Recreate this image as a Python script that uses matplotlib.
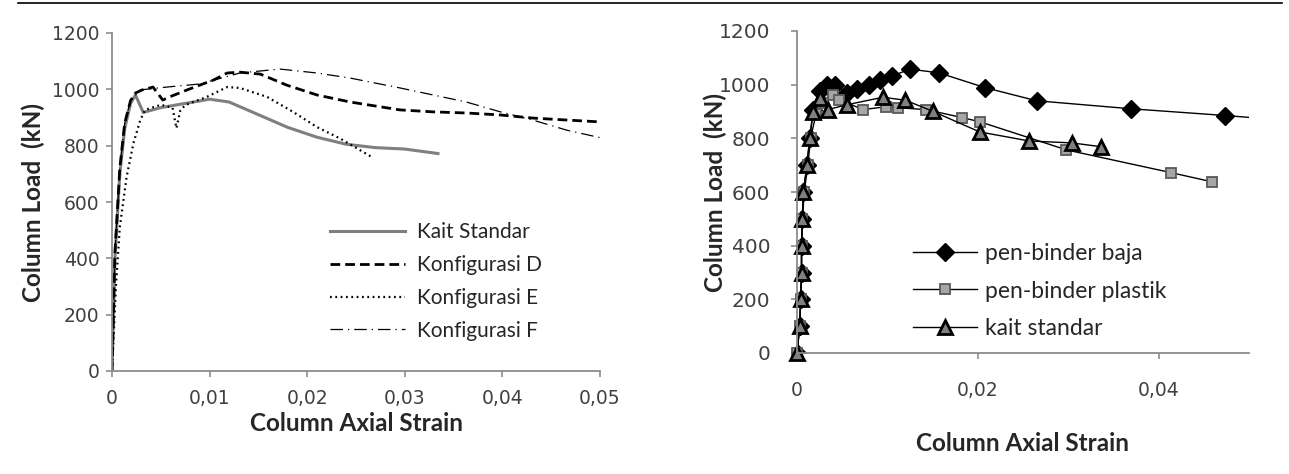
import matplotlib
matplotlib.use("Agg")
from matplotlib import pyplot as plt
from matplotlib.lines import Line2D

# ---- left chart: Load vs strain, line styles only ----
kait_x = [0, 0.0003, 0.0008, 0.0013, 0.0019, 0.0024, 0.0032, 0.005, 0.0075, 0.010, 0.012,
          0.015, 0.018, 0.021, 0.024, 0.027, 0.030, 0.0334]
kait_y = [0, 400, 700, 860, 950, 980, 918, 935, 950, 965, 955,
          910, 865, 830, 805, 793, 788, 772]

konf_d_x = [0, 0.0003, 0.0008, 0.0013, 0.0019, 0.0024, 0.0031, 0.0042, 0.0052, 0.0059, 0.0077,
            0.009, 0.0104, 0.0118, 0.0131, 0.0152, 0.0179, 0.0210, 0.0244, 0.0295, 0.0329,
            0.0363, 0.0398, 0.0431, 0.0466, 0.0502]
konf_d_y = [0, 420, 720, 880, 960, 987, 998, 1008, 962, 973, 998,
            1015, 1033, 1058, 1061, 1054, 1015, 980, 955, 927, 920,
            916, 909, 898, 891, 884]

konf_e_x = [0, 0.0004, 0.0008, 0.0015, 0.0022, 0.0029, 0.0034, 0.005, 0.0062, 0.0066, 0.0070,
            0.0075, 0.0097, 0.0118, 0.0131, 0.0159, 0.0186, 0.0210, 0.0234, 0.0267]
konf_e_y = [0, 300, 511, 690, 809, 891, 927, 945, 935, 862, 925,
            944, 973, 1008, 1005, 973, 919, 866, 825, 758]

konf_f_x = [0, 0.0003, 0.0008, 0.0013, 0.0019, 0.0029, 0.0056, 0.009, 0.0131, 0.0172, 0.0210,
            0.0244, 0.0295, 0.0329, 0.0363, 0.0398, 0.0431, 0.0466, 0.0502]
konf_f_y = [0, 420, 720, 880, 960, 998, 1008, 1019, 1058, 1072, 1058,
            1040, 1005, 980, 955, 920, 891, 855, 827]

left_xticks = [0, 0.01, 0.02, 0.03, 0.04, 0.05]
left_xlabels = ["0", "0,01", "0,02", "0,03", "0,04", "0,05"]
yticks = [0, 200, 400, 600, 800, 1000, 1200]
left_names = ["Kait Standar", "Konfigurasi D", "Konfigurasi E", "Konfigurasi F"]

# ---- right chart: Load vs strain, with markers ----
baja_x = [0, 0.0003, 0.0004, 0.0005, 0.0005, 0.0006, 0.0007, 0.0011, 0.0014, 0.0018, 0.0025,
          0.0033, 0.0042, 0.0055, 0.0066, 0.008, 0.0092, 0.0105, 0.0125, 0.0157, 0.0208,
          0.0265, 0.037, 0.0474, 0.056]
baja_y = [0, 100, 200, 300, 400, 500, 600, 700, 800, 907, 975,
          1000, 1000, 970, 983, 1000, 1019, 1032, 1058, 1044, 989,
          940, 910, 885, 862]

plastik_x = [0, 0.0003, 0.0004, 0.0005, 0.0005, 0.0006, 0.0008, 0.0012, 0.0015, 0.0021, 0.0029,
             0.0040, 0.0047, 0.0073, 0.0099, 0.0112, 0.0143, 0.0183, 0.0202, 0.0298, 0.0414,
             0.0459]
plastik_y = [0, 100, 200, 300, 400, 500, 600, 700, 800, 890, 930,
             962, 944, 907, 918, 914, 907, 877, 862, 757, 672,
             638]

standar_x = [0, 0.0003, 0.0004, 0.0005, 0.0005, 0.0006, 0.0007, 0.0011, 0.0014, 0.0018, 0.0025,
             0.0034, 0.0055, 0.0095, 0.012, 0.015, 0.0202, 0.0257, 0.0304, 0.0336]
standar_y = [0, 100, 200, 300, 400, 500, 600, 700, 800, 899, 951,
             907, 925, 953, 942, 901, 824, 790, 783, 769]

right_xticks = [0, 0.02, 0.04]
right_xlabels = ["0", "0,02", "0,04"]
right_names = ["pen-binder baja", "pen-binder plastik", "kait standar"]

W, H = 1289, 474
fig = plt.figure(figsize=(W / 100, H / 100), dpi=100)

spine_c = "#8c8c8c"
tick_c = "#404040"
lab_font = "Lato"
lab_size = 17.5

def style_axes(ax, xticks, xlabels, xpad, ypad, xsize, ysize):
    for s in ["top", "right"]:
        ax.spines[s].set_visible(False)
    for s in ["left", "bottom"]:
        ax.spines[s].set_color(spine_c)
        ax.spines[s].set_linewidth(1.3)
    ax.set_yticks(yticks)
    ax.set_yticklabels([str(v) for v in yticks])
    ax.set_xticks(xticks)
    ax.set_xticklabels(xlabels)
    ax.tick_params(axis="both", colors=spine_c, labelcolor=tick_c,
                   width=1.2, length=4, direction="out")
    ax.tick_params(axis="x", pad=xpad, labelsize=xsize)
    ax.tick_params(axis="y", pad=ypad, labelsize=ysize)
    for t in ax.get_xticklabels() + ax.get_yticklabels():
        t.set_family("DejaVu Sans")

# left
ax1 = fig.add_axes([112 / W, 1 - 371 / H, 488 / W, 338 / H])
ax1.plot(kait_x, kait_y, color="#7f7f7f", lw=2.2, label=left_names[0])
ax1.plot(konf_d_x, konf_d_y, color="k", lw=2.0, dashes=(3.5, 1.8), label=left_names[1])
ax1.plot(konf_e_x, konf_e_y, color="k", lw=1.6, dashes=(0.8, 1.6), label=left_names[2])
ax1.plot(konf_f_x, konf_f_y, color="k", lw=0.9, dashes=(10, 4, 1, 4), label=left_names[3])
ax1.set_xlim(0, 0.05)
ax1.set_ylim(0, 1200)
style_axes(ax1, left_xticks, left_xlabels, xpad=9, ypad=5, xsize=13.5, ysize=13.5)
ax1.set_xlabel("Column Axial Strain", fontsize=lab_size, fontweight="bold", family=lab_font,
               color="#262626")
ax1.xaxis.set_label_coords(0.5, -0.122)
ax1.set_ylabel("Column Load  (kN)", fontsize=lab_size, fontweight="bold", family=lab_font,
               color="#262626")
ax1.yaxis.set_label_coords(-0.137, 0.5)
ax1.legend(loc="upper left", bbox_to_anchor=((330 - 112) / 488, (371 - 222) / 338),
           frameon=False, borderpad=0, borderaxespad=0, handlelength=3.6,
           handletextpad=0.58, labelspacing=0.62, prop={"family": lab_font, "size": 15},
           labelcolor="#262626")

# right
ax2 = fig.add_axes([797 / W, 1 - 353 / H, 452 / W, 322 / H])
ax2.plot(baja_x, baja_y, color="k", lw=1.0, marker="D", ms=9, mfc="k", mec="k",
         label=right_names[0])
ax2.plot(plastik_x, plastik_y, color="k", lw=1.0, marker="s", ms=6.5, mfc="#a6a6a6",
         mec="#595959", mew=1.3, label=right_names[1], clip_on=False)
ax2.plot(standar_x, standar_y, color="k", lw=1.0, marker="^", ms=10, mfc="#808080",
         mec="k", mew=2.0, label=right_names[2], clip_on=False)
ax2.set_xlim(0, 0.05)
ax2.set_ylim(0, 1200)
style_axes(ax2, right_xticks, right_xlabels, xpad=16, ypad=15, xsize=13.5, ysize=14.5)
ax2.set_xlabel("Column Axial Strain", fontsize=lab_size, fontweight="bold", family=lab_font,
               color="#262626")
ax2.xaxis.set_label_coords(0.5, -0.245)
ax2.set_ylabel("Column Load  (kN)", fontsize=lab_size, fontweight="bold", family=lab_font,
               color="#262626")
ax2.yaxis.set_label_coords(-0.155, 0.5)
ax2.legend(loc="upper left", bbox_to_anchor=((913 - 797) / 452, (353 - 243) / 322),
           frameon=False, borderpad=0, borderaxespad=0, handlelength=2.8,
           handletextpad=0.35, labelspacing=0.72, prop={"family": lab_font, "size": 16.5},
           labelcolor="#262626")

# header rule at the very top of the page
fig.add_artist(Line2D([18 / W, 1282 / W], [1 - 2.5 / H, 1 - 2.5 / H], color="k", lw=1.2))

fig.savefig("out.png", dpi=100)
